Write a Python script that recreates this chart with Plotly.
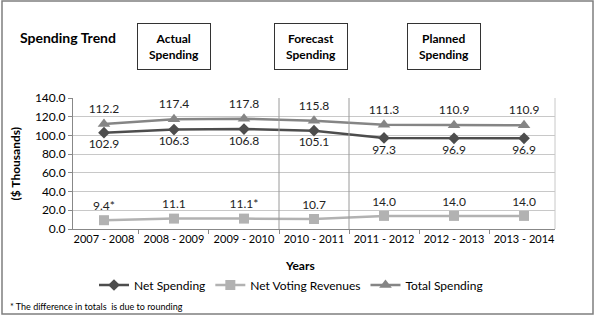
import plotly.graph_objects as go

years = ['2007 - 2008', '2008 - 2009', '2009 - 2010', '2010 - 2011',
         '2011 - 2012', '2012 - 2013', '2013 - 2014']
net_spending = [102.9, 106.3, 106.8, 105.1, 97.3, 96.9, 96.9]
net_voting = [9.4, 11.1, 11.1, 10.7, 14.0, 14.0, 14.0]
net_voting_labels = ['9.4*', '11.1', '11.1*', '10.7', '14.0', '14.0', '14.0']
total_spending = [112.2, 117.4, 117.8, 115.8, 111.3, 110.9, 110.9]

FONT = 'Lato, Carlito, Calibri, sans-serif'

fig = go.Figure()

fig.add_trace(go.Scatter(
    x=years, y=net_spending, name='Net Spending',
    mode='lines+markers+text',
    line=dict(color='#4d4d4d', width=2.5),
    marker=dict(symbol='diamond', size=9, color='#4d4d4d'),
    text=[f'{v:.1f}' for v in net_spending], textposition='bottom center',
    textfont=dict(size=12, color='#222'),
    cliponaxis=False
))
fig.add_trace(go.Scatter(
    x=years, y=net_voting, name='Net Voting Revenues',
    mode='lines+markers+text',
    line=dict(color='#b2b2b2', width=2.5),
    marker=dict(symbol='square', size=10, color='#b2b2b2'),
    text=net_voting_labels, textposition='top center',
    textfont=dict(size=12, color='#222'),
    cliponaxis=False
))
fig.add_trace(go.Scatter(
    x=years, y=total_spending, name='Total Spending',
    mode='lines+markers+text',
    line=dict(color='#858585', width=2.5),
    marker=dict(symbol='triangle-up', size=11, color='#858585'),
    text=[f'{v:.1f}' for v in total_spending], textposition='top center',
    textfont=dict(size=12, color='#222'),
    cliponaxis=False
))

W, H = 482, 131
L, T = 73, 98


def px(x):
    return (x - L) / W


def py(y):
    return (T + H - y) / H


shapes = [
    # outer frame
    dict(type='rect', xref='paper', yref='paper',
         x0=px(2), x1=px(593), y0=py(314), y1=py(1),
         line=dict(color='#7f7f7f', width=1.5)),
    # period separators
    dict(type='line', xref='x', yref='paper', x0=2.5, x1=2.5, y0=0, y1=1,
         line=dict(color='#9a9a9a', width=1)),
    dict(type='line', xref='x', yref='paper', x0=3.5, x1=3.5, y0=0, y1=1,
         line=dict(color='#9a9a9a', width=1)),
    # right border of plot area
    dict(type='line', xref='paper', yref='paper', x0=1, x1=1, y0=0, y1=1,
         line=dict(color='#c8c8c8', width=1)),
]

annotations = [
    dict(text='<b>Spending Trend</b>', xref='paper', yref='paper',
         x=px(18), y=py(38), xanchor='left', yanchor='middle',
         showarrow=False, font=dict(size=14, color='#000')),
    dict(text='* The difference in totals  is due to rounding', xref='paper', yref='paper',
         x=px(8), y=py(306), xanchor='left', yanchor='middle',
         showarrow=False, font=dict(size=9, color='#000')),
    dict(text='<b>($ Thousands)</b>', xref='paper', yref='paper',
         x=px(15), y=0.5, xanchor='center', yanchor='middle', textangle=-90,
         showarrow=False, font=dict(size=12, color='#000')),
    dict(text='<b>Years</b>', xref='paper', yref='paper',
         x=px(300), y=py(265), xanchor='center', yanchor='middle',
         showarrow=False, font=dict(size=12, color='#000')),
]
for label, cx in [('Actual<br>Spending', 173.5), ('Forecast<br>Spending', 310.5),
                  ('Planned<br>Spending', 443.5)]:
    annotations.append(dict(
        text=f'<b>{label}</b>', xref='paper', yref='paper',
        x=px(cx), y=py(46.5), xanchor='center', yanchor='middle',
        showarrow=False, width=70, height=43, align='center',
        bordercolor='#333', borderwidth=1, bgcolor='white',
        font=dict(size=12, color='#000')))

fig.update_layout(
    width=595, height=317,
    margin=dict(l=L, r=595 - L - W, t=T, b=317 - T - H),
    paper_bgcolor='white', plot_bgcolor='white',
    font=dict(family=FONT, size=12, color='#000'),
    showlegend=True,
    legend=dict(orientation='h', x=px(291), y=py(285), xanchor='center', yanchor='middle',
                font=dict(size=12), tracegroupgap=0),
    shapes=shapes,
    annotations=annotations,
)

fig.update_yaxes(range=[0, 140], dtick=20, tickformat='.1f', automargin=False,
                 showgrid=True, gridcolor='#c8c8c8', gridwidth=1,
                 showline=True, linecolor='#888', ticks='outside', ticklen=4, tickcolor='#888',
                 zeroline=False, tickfont=dict(size=12))
fig.update_xaxes(showgrid=False, showline=True, linecolor='#888', automargin=False,
                 ticks='outside', tickson='boundaries', ticklen=4, tickcolor='#888',
                 tickangle=0, tickfont=dict(size=11))

# drop the default page margin so the figure sits at the window's corner
fig.write_html('out.html', config=dict(displayModeBar=False),
               post_script="document.body.style.margin='0';")
